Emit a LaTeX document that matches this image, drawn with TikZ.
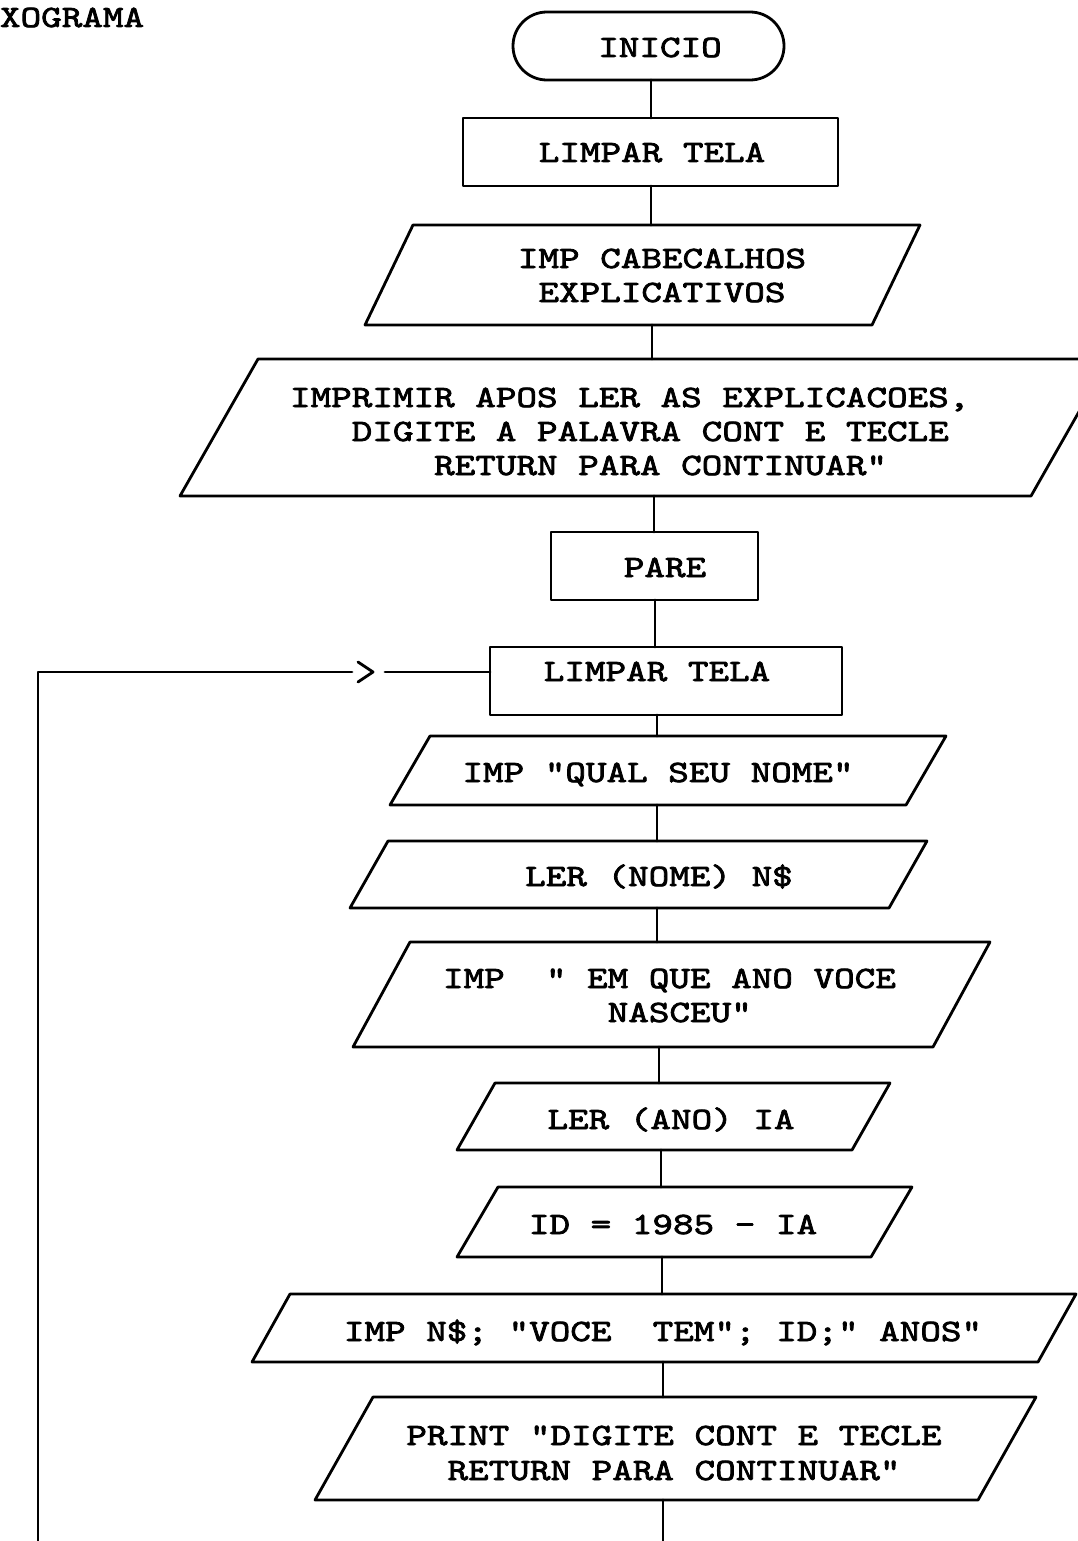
\documentclass[tikz,border=0pt]{standalone}
\usepackage{fontspec}
\newfontfamily\tw{lmmono10-regular.otf}[FakeStretch=1.265, FakeBold=2.5]
\usetikzlibrary{calc}
\tikzset{
  ln/.style={line width=2.8pt, line cap=round, line join=round},
  bnd/.style={rectangle, inner sep=0pt, outer sep=0pt, draw=none},
  rbox/.style={bnd, draw, ln},
  term/.style={bnd, draw, ln, rounded corners=33.9pt},
  conn/.style={ln},
  txt/.style={inner sep=0pt, outer sep=0pt, anchor=base,
    font=\tw\fontsize{31}{34}\selectfont},
  txtl/.style={txt, anchor=base west}
}
% name, x-left, x-right, y-top, y-bottom (pixel units, y downwards)
\newcommand\region[6][bnd]{\node[#1, minimum width={#4-#3}, minimum height={#6-#5}] (#2) at ({(#3+#4)/2},{(#5+#6)/2}) {};}
% parallelogram drawn inside a region: name, slant
\newcommand\parashape[2]{\draw[ln] ($(#1.north west)+(#2,0)$) -- (#1.north east) -- ($(#1.south east)-(#2,0)$) -- (#1.south west) -- cycle;}
\frenchspacing
\begin{document}
\begin{tikzpicture}[x=1pt,y=-1pt]
\useasboundingbox (0,0) rectangle (1078,1541);
\fill[white] (0,0) rectangle (1078,1541);
\clip (0,0) rectangle (1078,1541);

% shapes
\region[term]{term}{513}{784}{12}{80}
\region[rbox]{r1}{463}{838}{118}{186}
\region{p1}{365}{920}{225}{325}      \parashape{p1}{48}
\region{p2}{180}{1109}{359}{496}     \parashape{p2}{78}
\region[rbox]{r2}{551}{758}{532}{600}
\region[rbox]{r3}{490}{842}{647}{715}
\region{p3}{390}{946}{736}{805}      \parashape{p3}{40}
\region{p4}{350}{927}{841}{908}      \parashape{p4}{38}
\region{p5}{353}{990}{942}{1047}     \parashape{p5}{57}
\region{p6}{457}{890}{1083}{1150}    \parashape{p6}{38}
\region{p7}{457}{912}{1187}{1257}    \parashape{p7}{41}
\region{p8}{252}{1076}{1294}{1362}   \parashape{p8}{38}
\region{p9}{315}{1036}{1397}{1500}   \parashape{p9}{58}

% texts
\node[txtl] (title) at (0,27) {XOGRAMA};
\node[txt] (t0) at (660,57) {INICIO};
\node[txt] (t1) at (652,162) {LIMPAR TELA};
\node[txt] (t2a) at (662,268) {IMP CABECALHOS};
\node[txt] (t2b) at (662,302) {EXPLICATIVOS};
\node[txtl] (t3a) at (290,407) {IMPRIMIR APOS LER AS EXPLICACOES,};
\node[txtl] (t3b) at (290,441) {~~~DIGITE A PALAVRA CONT E TECLE};
\node[txtl] (t3c) at (290,475) {~~~~~~~RETURN PARA CONTINUAR”};
\node[txt] (t4) at (665,577) {PARE};
\node[txt] (t5) at (657,681) {LIMPAR TELA};
\node[txt] (t6) at (658,782) {IMP ”QUAL SEU NOME”};
\node[txt] (t7) at (659,886) {LER (NOME) N\$};
\node[txtl] (t8a) at (443,988) {IMP~~” EM QUE ANO VOCE};
\node[txtl] (t8b) at (443,1022) {~~~~~~~~NASCEU”};
\node[txt] (t9) at (671,1129) {LER (ANO) IA};
\node[txt] (t10) at (673,1234) {ID = 1985 - IA};
\node[txt] (t11) at (663,1341) {IMP N\$; ”VOCE~~TEM”; ID;” ANOS”};
\node[txt] (t12a) at (674,1445) {PRINT ”DIGITE CONT E TECLE};
\node[txt] (t12b) at (674,1480) {RETURN PARA CONTINUAR”};

% connector columns
\coordinate (xa) at (651,0);
\coordinate (xb) at (652,0);
\coordinate (xc) at (654,0);
\coordinate (xd) at (655,0);
\coordinate (xe) at (657,0);
\coordinate (xf) at (659,0);
\coordinate (xg) at (661,0);
\coordinate (xh) at (662,0);
\coordinate (xi) at (663,0);

\draw[conn] (term.south -| xa) -- (r1.north -| xa);
\draw[conn] (r1.south -| xa) -- (p1.north -| xa);
\draw[conn] (p1.south -| xb) -- (p2.north -| xb);
\draw[conn] (p2.south -| xc) -- (r2.north -| xc);
\draw[conn] (r2.south -| xd) -- (r3.north -| xd);
\draw[conn] (r3.south -| xe) -- (p3.north -| xe);
\draw[conn] (p3.south -| xe) -- (p4.north -| xe);
\draw[conn] (p4.south -| xe) -- (p5.north -| xe);
\draw[conn] (p5.south -| xf) -- (p6.north -| xf);
\draw[conn] (p6.south -| xg) -- (p7.north -| xg);
\draw[conn] (p7.south -| xh) -- (p8.north -| xh);
\draw[conn] (p8.south -| xi) -- (p9.north -| xi);
\coordinate (out) at (663,1545);
\draw[conn] (p9.south -| out) -- (out);

% loop back
\coordinate (lb) at (38,1545);
\coordinate (lt) at (38,672);
\coordinate (la) at (352,672);
\coordinate (tip) at (373,672);
\coordinate (lc) at (385,672);
\draw[conn] (lb) -- (lt) -- (la);
\draw[conn] ($(tip)+(-15,-10)$) -- (tip) -- ($(tip)+(-15,10)$);
\draw[conn] (lc) -- (r3.west |- lc);
\end{tikzpicture}
\end{document}
